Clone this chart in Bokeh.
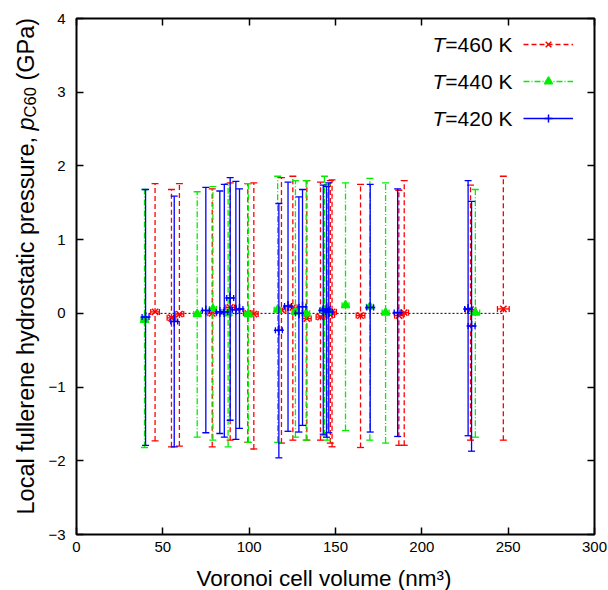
import math
from bokeh.plotting import figure
from bokeh.layouts import row, column
from bokeh.models import (ColumnDataSource, Range1d, LinearAxis, FixedTicker,
                          Label, Legend, LegendItem)
from bokeh.core.properties import value
from bokeh.embed import file_html
from bokeh.resources import INLINE

# ---------------- data ----------------
# T = 460 K
vol_460 = [45.5, 55.0, 59.6, 78.6, 89.0, 99.2, 102.7, 118.7, 125.3, 133.4, 141.3,
           147.0, 148.0, 164.5, 186.7, 189.8, 228.2, 247.2]
p_460 = [0.02, -0.06, -0.01, 0.00, 0.08, 0.00, -0.01, 0.05, 0.08, -0.07, -0.05,
         -0.02, 0.02, -0.03, -0.03, 0.01, 0.05, 0.06]
lo_460 = [-1.73, -1.81, -1.80, -1.81, -1.72, -1.75, -1.84, -1.76, -1.72, -1.72, -1.72,
          -1.76, -1.81, -1.82, -1.79, -1.79, -1.72, -1.72]
hi_460 = [1.76, 1.68, 1.76, 1.69, 1.77, 1.76, 1.77, 1.84, 1.86, 1.80, 1.78,
          1.80, 1.81, 1.75, 1.67, 1.80, 1.74, 1.86]
xerr_460 = [2.5, 2.5, 2.5, 2.5, 2.5, 2.5, 2.5, 2.5, 2.5, 2.5, 2.5,
            2.5, 2.5, 2.5, 2.5, 2.5, 3.0, 3.4]

# T = 440 K
vol_440 = [39.4, 69.9, 79.0, 87.8, 99.5, 116.5, 126.8, 133.0, 143.6, 145.2, 155.8,
           169.9, 179.0, 231.0]
p_440 = [-0.09, -0.01, 0.06, 0.00, -0.01, 0.05, 0.02, 0.00, 0.05, 0.02, 0.11,
         0.09, 0.01, 0.01]
lo_440 = [-1.82, -1.68, -1.72, -1.81, -1.75, -1.75, -1.68, -1.72, -1.66, -1.72, -1.59,
          -1.72, -1.76, -1.68]
hi_440 = [1.68, 1.65, 1.72, 1.76, 1.76, 1.86, 1.80, 1.80, 1.86, 1.75, 1.77,
          1.83, 1.77, 1.68]
xerr_440 = [2.0, 2.0, 2.0, 2.0, 2.0, 2.0, 2.0, 2.0, 2.0, 2.0, 2.0,
            2.0, 2.0, 2.5]

# T = 420 K
vol_420 = [40.0, 56.6, 74.9, 83.0, 85.6, 89.0, 92.3, 94.4, 117.2, 122.5, 128.8,
           130.9, 142.9, 144.8, 146.1, 170.1, 186.0, 226.8, 228.8]
p_420 = [-0.05, -0.11, 0.04, 0.02, 0.02, 0.21, 0.05, 0.06, -0.23, 0.10, 0.00,
         0.09, 0.04, 0.06, 0.02, 0.08, 0.01, 0.06, -0.17]
lo_420 = [-1.79, -1.81, -1.62, -1.63, -1.68, -1.45, -1.71, -1.56, -1.96, -1.60, -1.61,
          -1.52, -1.64, -1.68, -1.62, -1.61, -1.67, -1.66, -1.87]
hi_420 = [1.68, 1.59, 1.71, 1.66, 1.75, 1.84, 1.79, 1.69, 1.49, 1.78, 1.58,
          1.68, 1.74, 1.72, 1.77, 1.75, 1.69, 1.80, 1.52]
xerr_420 = [2.0, 2.0, 2.0, 2.0, 2.0, 2.0, 2.0, 2.0, 2.0, 2.0, 2.0,
            2.0, 2.0, 2.0, 2.0, 2.0, 2.0, 2.0, 2.0]

x_ticks = [0, 50, 100, 150, 200, 250, 300]
y_ticks = [-3, -2, -1, 0, 1, 2, 3, 4]
series_labels = ["460 K", "440 K", "420 K"]
x_title = "Voronoi cell volume (nm³)"
y_title_parts = ["Local fullerene hydrostatic pressure,", "p", "C60", "(GPa)"]

FONT = "Liberation Sans"
W_LEFT = 44          # strip holding the y-axis title
H_MAIN = 560         # height of the plot row
H_BOTTOM = 30        # strip holding the x-axis title
W_TOTAL = 608


def no_align(f):
    if "frame_align" in f.properties():
        f.frame_align = False


def strip(w, h):
    f = figure(width=w, height=h, x_range=Range1d(0, w), y_range=Range1d(0, h),
               output_backend="svg", toolbar_location=None,
               x_axis_type=None, y_axis_type=None,
               min_border_left=0, min_border_right=0, min_border_top=0,
               min_border_bottom=0)
    f.outline_line_color = None
    f.xgrid.grid_line_color = None
    f.ygrid.grid_line_color = None
    f.background_fill_color = "white"
    f.border_fill_color = "white"
    no_align(f)
    return f


# ---------------- main figure ----------------
p = figure(width=W_TOTAL - W_LEFT, height=H_MAIN, x_range=Range1d(0, 300),
           y_range=Range1d(-3, 4), output_backend="svg", toolbar_location=None,
           min_border_left=76 - W_LEFT, min_border_right=14, min_border_top=18,
           min_border_bottom=H_MAIN - 534)
p.background_fill_color = "white"
p.border_fill_color = "white"
p.outline_line_color = "black"
p.outline_line_width = 2
p.xgrid.grid_line_color = None
p.ygrid.grid_line_color = None
no_align(p)


def style_axis(ax, labels=True, standoff=8):
    ax.axis_line_color = None
    ax.major_tick_in = 7
    ax.major_tick_out = 0
    ax.major_tick_line_width = 1.5
    ax.major_tick_line_color = "black"
    ax.minor_tick_line_color = None
    if labels:
        ax.major_label_text_font = FONT
        ax.major_label_text_font_size = "15px"
        ax.major_label_text_color = "black"
        ax.major_label_standoff = standoff
    else:
        ax.major_label_text_font_size = "1px"
        ax.major_label_text_color = None
        ax.major_label_standoff = 0


p.xaxis.ticker = FixedTicker(ticks=x_ticks)
p.yaxis.ticker = FixedTicker(ticks=y_ticks)
style_axis(p.xaxis[0], True, 7)
style_axis(p.yaxis[0], True, 11)

top_ax = LinearAxis(ticker=FixedTicker(ticks=x_ticks))
style_axis(top_ax, False)
p.add_layout(top_ax, "above")
right_ax = LinearAxis(ticker=FixedTicker(ticks=y_ticks))
style_axis(right_ax, False)
p.add_layout(right_ax, "right")

# zero reference line across the data range
all_vol = vol_460 + vol_440 + vol_420
p.line(x=[min(all_vol), max(all_vol)], y=[0, 0], line_color="black",
       line_dash="2 2", line_width=1)


def draw_series(vol, pr, lo, hi, xe, color, dash, marker, msize):
    src = ColumnDataSource(dict(
        v=vol, p=pr, lo=lo, hi=hi,
        vl=[a - b for a, b in zip(vol, xe)],
        vh=[a + b for a, b in zip(vol, xe)]))
    seg = p.segment(x0="v", y0="lo", x1="v", y1="hi", source=src,
                    line_color=color, line_dash=dash, line_width=1.3)
    for yc in ("hi", "lo"):
        p.scatter(x="v", y=yc, source=src, marker="dash", size=7,
                  line_color=color, line_width=1.3)
    p.segment(x0="vl", y0="p", x1="vh", y1="p", source=src,
              line_color=color, line_width=1.3)
    for xc in ("vl", "vh"):
        p.scatter(x=xc, y="p", source=src, marker="dash", angle=math.pi / 2,
                  size=6, line_color=color, line_width=1.3)
    mk = p.scatter(x="v", y="p", source=src, marker=marker, size=msize,
                   line_color=color, fill_color=color, line_width=1.5)
    return seg, mk


seg460, mk460 = draw_series(vol_460, p_460, lo_460, hi_460, xerr_460,
                            "#ff0000", "5 3", "x", 9)
seg440, mk440 = draw_series(vol_440, p_440, lo_440, hi_440, xerr_440,
                            "#00ee00", "6 2 1 2", "triangle", 8)
seg420, mk420 = draw_series(vol_420, p_420, lo_420, hi_420, xerr_420,
                            "#0000ff", "solid", "cross", 10)

# legend samples (glyph only, text drawn separately)
legend = Legend(items=[LegendItem(label=" ", renderers=[seg460, mk460]),
                       LegendItem(label=" ", renderers=[seg440, mk440]),
                       LegendItem(label=" ", renderers=[seg420, mk420])],
                location=(447, 406), glyph_width=50, glyph_height=20,
                label_width=0, label_height=20, label_standoff=0,
                label_text_font_size="1px", label_text_color=None,
                spacing=17, padding=0, margin=0,
                border_line_color=None, background_fill_alpha=0)
p.add_layout(legend)

# legend text: italic T + "=... K", right aligned
row_y = [3.647, 3.145, 2.643]
for yy, lab in zip(row_y, series_labels):
    p.add_layout(Label(x=252.5, y=yy, text="=" + lab, text_align="right",
                       text_baseline="middle", text_font=FONT,
                       text_font_size="21px", text_color="black"))
    p.add_layout(Label(x=213.6, y=yy, text="T", text_align="right",
                       text_baseline="middle", text_font=FONT,
                       text_font_style="italic",
                       text_font_size="21px", text_color="black"))

# ---------------- y-axis title strip ----------------
yl = strip(W_LEFT, H_MAIN)
cx = 25
common = dict(angle=math.pi / 2, text_align="left", text_baseline="alphabetic",
              text_color="black", text_font=value(FONT))
yl.text(x=[cx], y=[46], text=[y_title_parts[0]],
        text_font_size=value("23.5px"), **common)
yl.text(x=[cx], y=[430], text=[y_title_parts[1]], text_font_style="italic",
        text_font_size=value("23.5px"), **common)
yl.text(x=[cx + 4], y=[443.1], text=[y_title_parts[2]],
        text_font_size=value("16.5px"), **common)
yl.text(x=[cx], y=[479.9], text=[y_title_parts[3]],
        text_font_size=value("23.5px"), **common)

# ---------------- x-axis title strip ----------------
xl = strip(W_TOTAL, H_BOTTOM)
xl.text(x=[323.5], y=[12], text=[x_title], text_align="center",
        text_baseline="middle", text_color="black", text_font=value(FONT),
        text_font_size=value("22.5px"))

layout = column(row(yl, p, spacing=0), xl, spacing=0)
open("out.html", "w").write(file_html(layout, INLINE))
